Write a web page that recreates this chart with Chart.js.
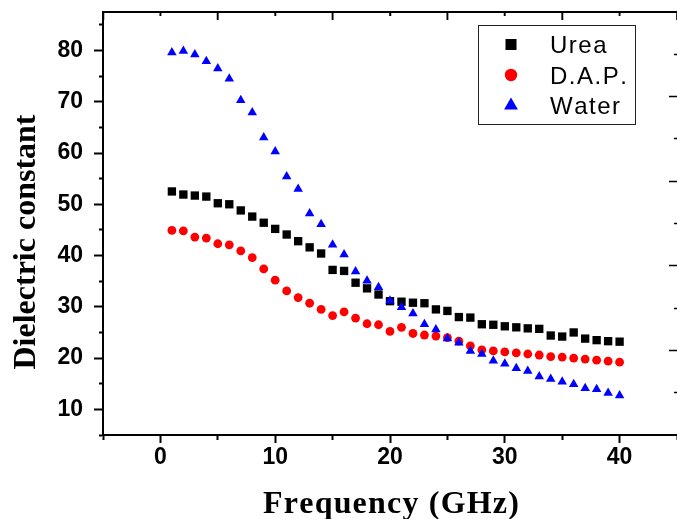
<!DOCTYPE html>
<html>
<head>
<meta charset="utf-8">
<script src="https://cdn.jsdelivr.net/npm/chart.js@4.4.1/dist/chart.umd.min.js"></script>
<style>
html,body{margin:0;padding:0;background:#fff;}
#wrap{width:677px;height:519px;position:relative;}
</style>
</head>
<body>
<div id="wrap"><canvas id="c"></canvas></div>
<script>
// ---- data ----
const frequency = [1,2,3,4,5,6,7,8,9,10,11,12,13,14,15,16,17,18,19,20,21,22,23,24,25,26,27,28,29,30,31,32,33,34,35,36,37,38,39,40];
const urea  = [52.5,51.9,51.7,51.5,50.2,50.0,48.8,47.6,46.4,45.2,44.1,42.8,41.6,40.4,37.2,37.0,34.7,33.6,32.4,31.1,31.0,30.8,30.7,29.5,29.2,28.0,27.9,26.6,26.5,26.2,26.0,25.8,25.7,24.4,24.2,25.0,23.8,23.5,23.3,23.2];
const dap   = [44.9,44.8,43.6,43.4,42.3,42.1,40.9,39.6,37.4,35.2,33.1,31.8,30.7,29.5,28.3,29.0,27.8,26.7,26.5,25.2,26.0,24.8,24.5,24.3,24.0,23.3,22.4,21.6,21.4,21.2,21.0,20.8,20.6,20.3,20.2,20.0,19.8,19.6,19.4,19.2];
const water = [79.6,79.9,79.2,77.9,76.5,74.5,70.3,67.9,63.0,60.3,55.4,53.0,48.2,46.1,42.1,40.2,36.9,35.1,33.8,31.2,29.9,28.7,26.6,25.6,23.8,23.0,21.4,20.8,19.5,18.9,18.0,17.5,16.4,15.9,15.4,14.9,14.1,13.9,13.2,12.7];
const seriesNames = ['Urea', 'D.A.P.', 'Water'];
const xTickLabels = [0, 10, 20, 30, 40];
const yTickLabels = [10, 20, 30, 40, 50, 60, 70, 80];
const xTitle = 'Frequency (GHz)';
const yTitle = 'Dielectric constant';

// ---- styling ----
const colors = ['#000000', '#ff0000', '#0000ff'];
const styles = ['rect', 'circle', 'triangle'];
const radii = [5.9, 4.4, 5.5];
const legendRadii = [7.8, 6.2, 8.0];

function toXY(vals){ return frequency.map((f, i) => ({x: f, y: vals[i]})); }
function range(a, b, s){ const r = []; for (let v = a; v <= b + 1e-9; v += s) r.push(v); return r; }
function noPad(s){ s.paddingTop = 0; s.paddingBottom = 0; s.paddingLeft = 0; s.paddingRight = 0; }
function isMult(v, m){ return Math.abs(v % m) < 1e-9; }

// text with extra spacing between characters, without ctx.letterSpacing
function spacedWidth(ctx, text, sp){
  let w = 0;
  for (const ch of text) w += ctx.measureText(ch).width + sp;
  return w - sp;
}
function spacedText(ctx, text, x, y, sp){
  ctx.textAlign = 'left';
  let cx = x;
  for (const ch of text) { ctx.fillText(ch, cx, y); cx += ctx.measureText(ch).width + sp; }
}

const tickFont = {family: '"Liberation Sans", Arial, sans-serif', size: 23, weight: 'bold'};

const overlay = {
  id: 'overlay',
  afterDraw(chart){
    const ctx = chart.ctx;
    const ca = chart.chartArea;
    // y title
    ctx.save();
    ctx.fillStyle = '#000';
    ctx.font = 'bold 32px "Liberation Serif", "Times New Roman", serif';
    ctx.textAlign = 'center';
    ctx.textBaseline = 'alphabetic';
    ctx.translate(35, 242);
    ctx.rotate(-Math.PI / 2);
    ctx.fillText(yTitle, 0, 0);
    ctx.restore();
    // x title
    ctx.save();
    ctx.fillStyle = '#000';
    ctx.font = 'bold 32px "Liberation Serif", "Times New Roman", serif';
    ctx.textBaseline = 'alphabetic';
    const xw = spacedWidth(ctx, xTitle, 1.2);
    spacedText(ctx, xTitle, 391 - xw / 2, 513, 1.2);
    ctx.restore();
    // legend box
    ctx.save();
    ctx.strokeStyle = '#222';
    ctx.lineWidth = 1;
    ctx.strokeRect(478.5, 25.5, 157, 99);
    const ys = [44.5, 75, 105.5];
    const tys = [53, 83.5, 113.5];
    ctx.font = '24px "Liberation Sans", Arial, sans-serif';
    ctx.textBaseline = 'alphabetic';
    chart.data.datasets.forEach((ds, i) => {
      ctx.fillStyle = ds.backgroundColor;
      Chart.helpers.drawPoint(ctx, {pointStyle: ds.pointStyle, rotation: 0, radius: legendRadii[i], borderWidth: 0}, 511, ys[i]);
      ctx.fillStyle = '#000';
      spacedText(ctx, ds.label, 550, tys[i], 1.5);
    });
    ctx.restore();
    // top frame line and its inward ticks, taken from the top scale
    const top = chart.scales.xTop;
    if (top) {
      ctx.save();
      ctx.setLineDash([]);
      ctx.strokeStyle = '#000';
      ctx.lineWidth = 2;
      ctx.beginPath();
      ctx.moveTo(ca.left - 1, ca.top);
      ctx.lineTo(ca.right, ca.top);
      ctx.stroke();
      ctx.lineWidth = 1.5;
      top.ticks.forEach(t => {
        const px = top.getPixelForValue(t.value);
        const len = isMult(t.value, 10) ? 4 : 8;
        ctx.beginPath();
        ctx.moveTo(px, ca.top);
        ctx.lineTo(px, ca.top + len);
        ctx.stroke();
      });
      ctx.restore();
    }
  }
};

const datasets = [urea, dap, water].map((vals, i) => ({
  label: seriesNames[i],
  data: toXY(vals),
  pointStyle: styles[i],
  pointRadius: radii[i],
  pointHoverRadius: radii[i],
  backgroundColor: colors[i],
  borderColor: colors[i],
  pointBorderWidth: 0,
  showLine: false,
  order: 2 - i,
  xAxisID: 'x',
  yAxisID: 'y'
}));

new Chart(document.getElementById('c'), {
  type: 'scatter',
  data: {datasets},
  plugins: [overlay],
  options: {
    responsive: true,
    maintainAspectRatio: false,
    devicePixelRatio: 1,
    animation: false,
    layout: {padding: 0, autoPadding: false},
    plugins: {legend: {display: false}, tooltip: {enabled: false}},
    scales: {
      x: {
        type: 'linear', position: 'bottom', min: -5, max: 45,
        afterBuildTicks: s => { s.ticks = range(-5, 45, 5).map(v => ({value: v})); },
        afterFit: s => { s.height = 84; noPad(s); },
        border: {display: true, color: '#000', width: 2},
        grid: {drawOnChartArea: false, drawTicks: true, tickLength: 8, tickWidth: 2, tickColor: '#000',
               tickBorderDash: c => (c.tick && isMult(c.tick.value, 10)) ? [] : [4, 100]},
        ticks: {autoSkip: false, maxRotation: 0, padding: 1, color: '#000', font: tickFont,
                callback: v => xTickLabels.includes(v) ? String(v) : ''}
      },
      xTop: {
        type: 'linear', position: 'top', min: -5, max: 45,
        afterBuildTicks: s => { s.ticks = range(-5, 45, 5).map(v => ({value: v})); },
        afterFit: s => { s.height = 12; noPad(s); },
        border: {display: true, color: '#000', width: 2},
        grid: {drawOnChartArea: false, drawTicks: true, tickLength: -8, tickWidth: 1.5, tickColor: '#000',
               tickBorderDash: c => (c.tick && isMult(c.tick.value, 10)) ? [0, 4, 5, 100] : []},
        ticks: {display: false}
      },
      y: {
        type: 'linear', position: 'left', min: 5, max: 87.5,
        afterBuildTicks: s => { s.ticks = range(5, 85, 5).map(v => ({value: v})); },
        afterFit: s => { s.width = 103; noPad(s); },
        border: {display: true, color: '#000', width: 2},
        grid: {drawOnChartArea: false, drawTicks: true, tickLength: 9, tickWidth: 2, tickColor: '#000',
               tickBorderDash: c => (c.tick && isMult(c.tick.value, 10)) ? [] : [0, 5, 5, 100]},
        ticks: {autoSkip: false, padding: 11, color: '#000', font: tickFont,
                callback: v => yTickLabels.includes(v) ? String(v) : ''}
      },
      yRight: {
        type: 'linear', position: 'right', min: 0, max: 10,
        afterBuildTicks: s => { s.ticks = range(1, 9, 1).map(v => ({value: v})); },
        afterFit: s => { s.width = 0; noPad(s); },
        border: {display: false},
        grid: {drawOnChartArea: false, drawTicks: true, tickLength: -8, tickWidth: 1.5, tickColor: '#000',
               tickBorderDash: c => (c.tick && isMult(c.tick.value, 2)) ? [] : [3, 100]},
        ticks: {display: false}
      }
    }
  }
});
</script>
</body>
</html>
